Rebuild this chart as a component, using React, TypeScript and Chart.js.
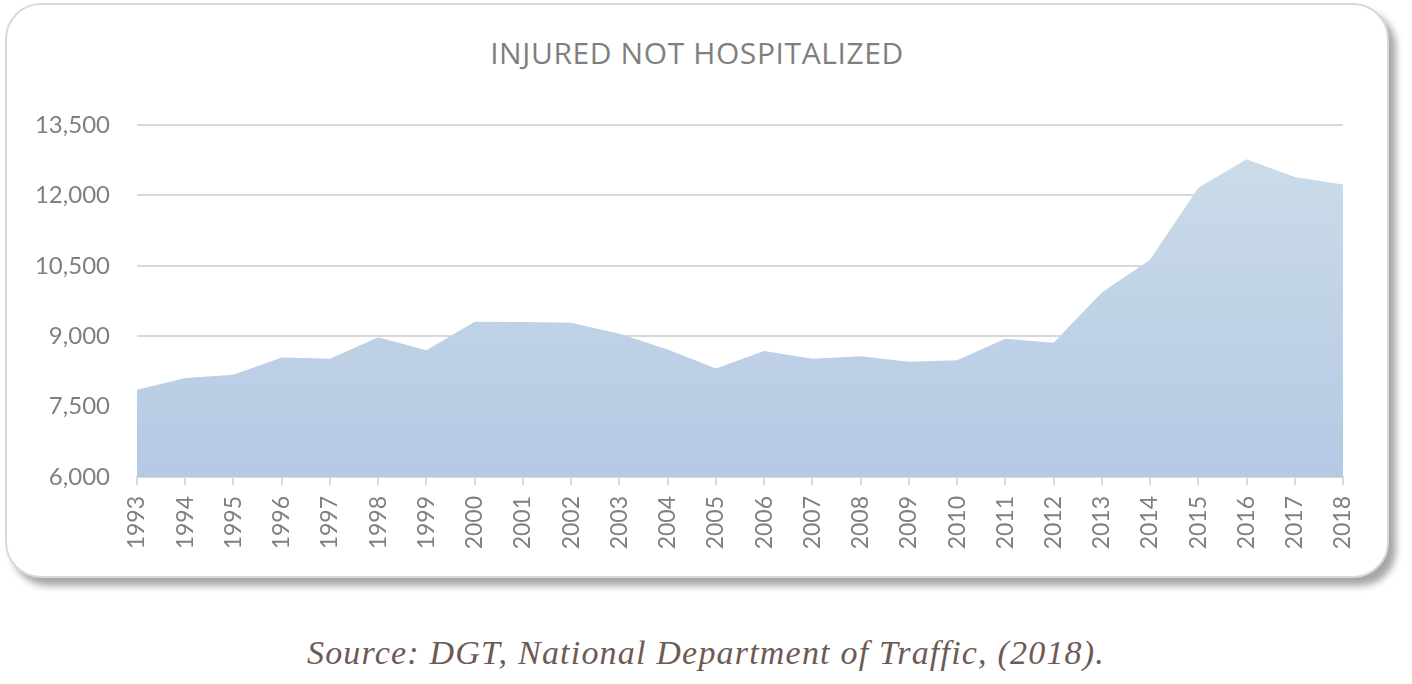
import React, { useEffect, useRef } from "react";
import { Chart, registerables } from "chart.js";

Chart.register(...registerables);

const years: string[] = [
  "1993", "1994", "1995", "1996", "1997", "1998", "1999", "2000", "2001",
  "2002", "2003", "2004", "2005", "2006", "2007", "2008", "2009", "2010",
  "2011", "2012", "2013", "2014", "2015", "2016", "2017", "2018",
];

const injuredNotHospitalized: number[] = [
  7858, 8109, 8179, 8544, 8522, 8979, 8700, 9309, 9300,
  9287, 9051, 8715, 8314, 8687, 8522, 8572, 8458, 8486,
  8944, 8858, 9930, 10629, 12165, 12772, 12394, 12230,
];

const yTicks: number[] = [6000, 7500, 9000, 10500, 12000, 13500];

const chartTitle = "INJURED NOT HOSPITALIZED";
const sourceText = "Source: DGT, National Department of Traffic, (2018).";

export default function App() {
  const canvasRef = useRef<HTMLCanvasElement | null>(null);

  useEffect(() => {
    if (!canvasRef.current) return;
    const chart = new Chart(canvasRef.current, {
      type: "line",
      data: {
        labels: years,
        datasets: [
          {
            label: chartTitle,
            data: injuredNotHospitalized,
            fill: "start",
            borderWidth: 0,
            pointRadius: 0,
            tension: 0,
            backgroundColor: (ctx: any) => {
              const c = ctx.chart;
              const area = c.chartArea;
              if (!area) return "#bccfe5";
              const g = c.ctx.createLinearGradient(0, area.bottom, 0, area.top);
              g.addColorStop(0, "#b4c9e4");
              g.addColorStop(1, "#cddde9");
              return g;
            },
          },
        ],
      },
      options: {
        animation: false,
        responsive: false,
        maintainAspectRatio: false,
        layout: { padding: { left: 0, right: 46, top: 122, bottom: 0 } },
        plugins: {
          legend: { display: false },
          tooltip: { enabled: false },
          title: { display: false },
        },
        scales: {
          x: {
            type: "category",
            offset: false,
            grid: {
              display: true,
              drawOnChartArea: false,
              drawTicks: true,
              tickLength: 8,
              color: "#d9d9d9",
              lineWidth: 2,
            },
            border: { display: true, color: "#d9d9d9", width: 2 },
            ticks: {
              color: "#7f7f7f",
              font: { family: "Lato", size: 23 },
              minRotation: 90,
              maxRotation: 90,
              autoSkip: false,
              padding: 11,
            },
            afterFit: (s: any) => {
              s.height = 101;
            },
          },
          y: {
            min: 6000,
            max: 13500,
            afterBuildTicks: (s: any) => {
              s.ticks = yTicks.map((v) => ({ value: v }));
            },
            grid: {
              color: "#d9d9d9",
              lineWidth: 2,
              drawTicks: false,
            },
            border: { display: false },
            ticks: {
              color: "#7f7f7f",
              font: { family: "Lato", size: 24 },
              padding: 27,
              callback: (v: any) => Number(v).toLocaleString("en-US"),
            },
            afterFit: (s: any) => {
              s.width = 132;
            },
          },
        },
      },
    });
    return () => chart.destroy();
  }, []);

  return (
    <div style={{ position: "absolute", left: 0, top: 0, width: 1412, height: 684, background: "#fff" }}>
      <div
        style={{
          position: "absolute",
          left: 5,
          top: 3,
          width: 1380,
          height: 571,
          border: "2px solid #d9d9d9",
          borderRadius: 36,
          background: "#fff",
          boxShadow: "7px 8px 7px rgba(0,0,0,0.35)",
        }}
      />
      <div
        style={{
          position: "absolute",
          left: 5,
          width: 1384,
          top: 38,
          textAlign: "center",
          fontFamily: "'Open Sans', sans-serif",
          fontSize: 30,
          lineHeight: 1,
          letterSpacing: "0.6px",
          color: "#7f7f7f",
          whiteSpace: "nowrap",
        }}
      >
        {chartTitle}
      </div>
      <canvas
        ref={canvasRef}
        width={1384}
        height={575}
        style={{ position: "absolute", left: 5, top: 3, width: 1384, height: 575 }}
      />
      <div
        style={{
          position: "absolute",
          left: 0,
          width: 1412,
          top: 636,
          textAlign: "center",
          fontFamily: "'Liberation Serif', serif",
          fontStyle: "italic",
          fontSize: 34,
          lineHeight: 1,
          letterSpacing: "1.2px",
          color: "#6e5a55",
          whiteSpace: "nowrap",
        }}
      >
        {sourceText}
      </div>
    </div>
  );
}
